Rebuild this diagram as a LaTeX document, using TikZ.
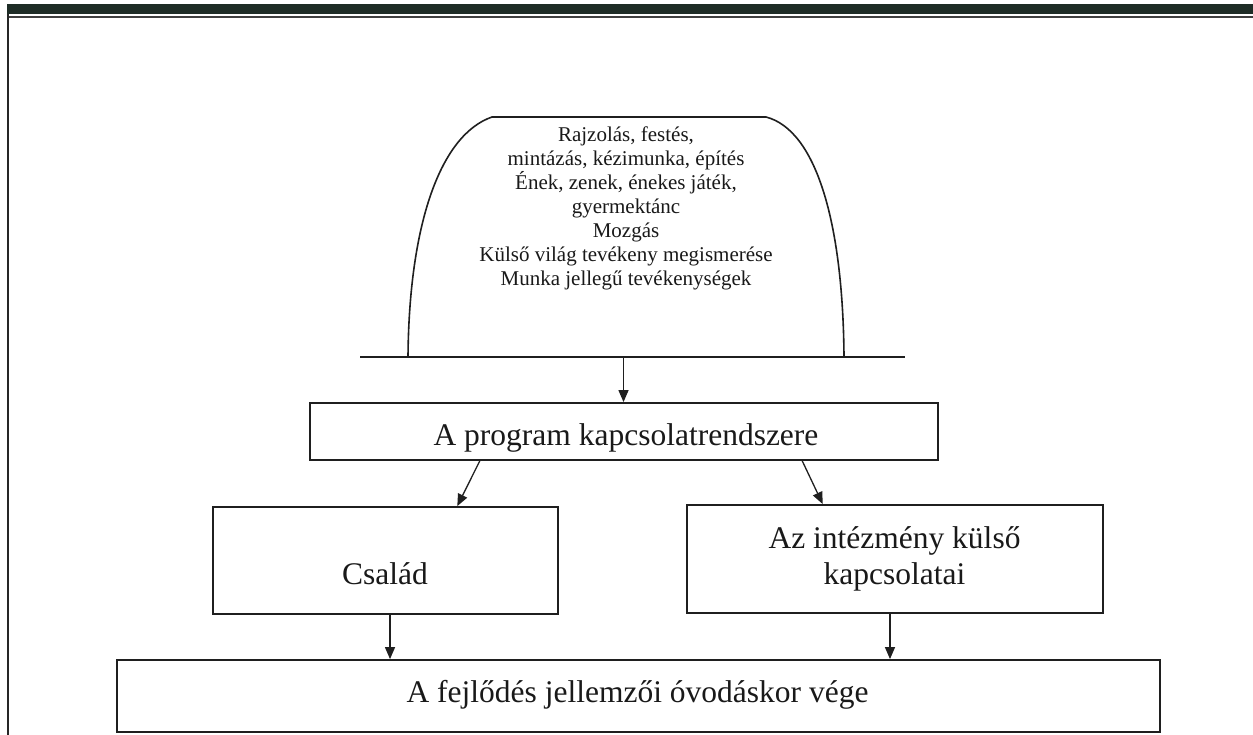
\documentclass[tikz,border=0pt]{standalone}
\usepackage{fontspec}
\setmainfont{Liberation Serif}
\usetikzlibrary{arrows.meta,calc}
\begin{document}
\begin{tikzpicture}[x=1pt,y=-1pt,
  boxnode/.style={draw=black!88, line width=1.8pt, rectangle, inner sep=0pt},
  arr/.style={draw=black!88, line width=1.3pt, -{Triangle[length=12pt,width=10pt]}},
  bigtext/.style={font=\fontsize{31.5}{35}\selectfont, anchor=base, inner sep=0pt, text=black!90},
  smalltext/.style={font=\fontsize{21}{22.5}\selectfont, anchor=base, inner sep=0pt, text=black!90}]
\useasboundingbox (0,0) rectangle (1253,735);
\fill[white] (0,0) rectangle (1253,735);
% frame
\fill[fill={rgb,255:red,30;green,44;blue,38}] (7,4) rectangle (1253,14);
\draw[line width=1.5pt, black!75] (7,17) -- (1253,17);
\draw[line width=2pt, black!85] (7.5,14) -- (7.5,735);
% dome
\draw[line width=1.6pt, black!88] (408,357) .. controls (409,225) and (440,135) .. (492,117)
  -- (766,117) .. controls (816,130) and (843,222) .. (844,357);
\draw[line width=1.6pt, black!88] (360,357) -- (905,357);
\coordinate (domebase) at (623.5,357);
\node[smalltext] (d1) at (626,142) {Rajzolás, festés,};
\node[smalltext] (d2) at (626,166) {mintázás, kézimunka, építés};
\node[smalltext] (d3) at (626,190) {Ének, zenek, énekes játék,};
\node[smalltext] (d4) at (626,214) {gyermektánc};
\node[smalltext] (d5) at (626,238) {Mozgás};
\node[smalltext] (d6) at (626,262) {Külső világ tevékeny megismerése};
\node[smalltext] (d7) at (626,286) {Munka jellegű tevékenységek};
% boxes
\node[boxnode, minimum width=628pt, minimum height=57pt] (box1) at (624,431.5) {};
\node[boxnode, minimum width=345pt, minimum height=107pt] (box2) at (385.5,560.5) {};
\node[boxnode, minimum width=416pt, minimum height=108pt] (box3) at (895,559) {};
\node[boxnode, minimum width=1043pt, minimum height=72pt] (box4) at (638.5,696) {};
\node[bigtext] (t1) at (626,445) {A program kapcsolatrendszere};
\node[bigtext] (t2) at (385,584) {Család};
\node[bigtext] (t3a) at (894.5,548) {Az intézmény külső};
\node[bigtext] (t3b) at (894.5,584) {kapcsolatai};
\node[bigtext] (t4) at (637.5,702) {A fejlődés jellemzői óvodáskor vége};
% connectors
\draw[arr] (domebase) -- (domebase |- box1.north);
\draw[arr] ($(box1.south west)!0.271!(box1.south east)$) -- ($(box2.north west)!0.707!(box2.north east)$);
\draw[arr] ($(box1.south west)!0.783!(box1.south east)$) -- ($(box3.north west)!0.327!(box3.north east)$);
\coordinate (b2s) at ($(box2.south west)!0.513!(box2.south east)$);
\coordinate (b3s) at ($(box3.south west)!0.488!(box3.south east)$);
\draw[arr] (b2s) -- (b2s |- box4.north);
\draw[arr] (b3s) -- (b3s |- box4.north);
\end{tikzpicture}
\end{document}
